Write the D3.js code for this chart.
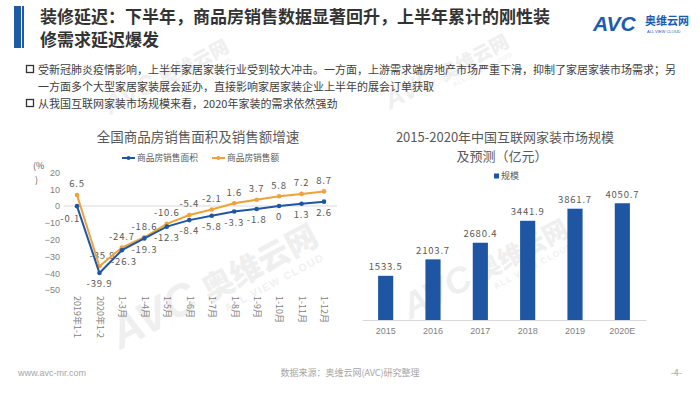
<!DOCTYPE html>
<html>
<head>
<meta charset="utf-8">
<script src="https://cdn.jsdelivr.net/npm/d3@7"></script>
<style>
body{margin:0;background:#fff;}
svg{display:block;font-family:"Noto Sans CJK SC","Noto Sans",sans-serif;}
</style>
</head>
<body>
<svg id="chart" width="700" height="394"></svg>
<script>
// 左图：全国商品房销售面积及销售额增速
var months = ["2019年1-12月","2020年1-2月","1-3月","1-4月","1-5月","1-6月","1-7月","1-8月","1-9月","1-10月","1-11月","1-12月"];
var areaGrowth = [-0.1,-39.9,-26.3,-19.3,-12.3,-8.4,-5.8,-3.3,-1.8,0,1.3,2.6];
var salesGrowth = [6.5,-35.9,-24.7,-18.6,-10.6,-5.4,-2.1,1.6,3.7,5.8,7.2,8.7];
var growthTicks = [20,10,0,-10,-20,-30,-40,-50];
// 右图：互联网家装市场规模（亿元）
var years = ["2015","2016","2017","2018","2019","2020E"];
var marketSize = [1533.5,2103.7,2680.4,3441.9,3861.7,4050.7];

var blue = "#1f56a3";
var orange = "#f0a23a";
var grey = "#595959";
var cjk = "'Noto Sans CJK SC', sans-serif";

var svg = d3.select("#chart");

// watermarks
function watermark(x,y,s){
	var g = svg.append("g").attr("transform","translate("+x+","+y+") rotate(-28) scale("+s+")")
		.attr("fill","#000").attr("opacity",0.06);
	g.append("text").attr("x",0).attr("y",0).attr("font-size","60px").attr("font-weight","900")
		.attr("font-style","italic").attr("font-family","Liberation Sans, sans-serif").text("AVC");
	g.append("text").attr("x",135).attr("y",0).attr("font-size","42px").attr("font-weight","900").text("奥维云网");
	g.append("text").attr("x",150).attr("y",22).attr("font-size","14px").attr("font-weight","700")
		.attr("letter-spacing","2px").attr("font-family","Liberation Sans, sans-serif").text("ALL VIEW CLOUD");
}
watermark(120,350,0.75);
watermark(410,320,0.6);
watermark(110,115,0.45);
watermark(390,110,0.45);

// header
svg.append("rect").attr("x",14).attr("y",6).attr("width",7).attr("height",42).attr("fill","#1d5ba6");
svg.append("rect").attr("x",22).attr("y",6).attr("width",2).attr("height",42).attr("fill","#1d5ba6");
svg.append("text").attr("x",40).attr("y",23).attr("font-size","17px").attr("font-weight","700").attr("fill","#333")
	.text("装修延迟：下半年，商品房销售数据显著回升，上半年累计的刚性装");
svg.append("text").attr("x",40).attr("y",46).attr("font-size","17px").attr("font-weight","700").attr("fill","#333")
	.text("修需求延迟爆发");

// logo
svg.append("text").attr("x",593).attr("y",31).attr("font-size","21px").attr("font-weight","900").attr("font-style","italic")
	.attr("font-family","Liberation Sans, sans-serif").attr("fill","#1b5cb0").text("AVC");
svg.append("text").attr("x",645).attr("y",25).attr("font-size","11px").attr("font-weight","700").attr("fill","#1b5cb0").text("奥维云网");
svg.append("text").attr("x",647).attr("y",33).attr("font-size","4px").attr("font-family","Liberation Sans, sans-serif")
	.attr("fill","#1b5cb0").text("ALL VIEW CLOUD");

// bullets
var bullets = [
	{x:38,y:70,box:true,t:"受新冠肺炎疫情影响，上半年家居家装行业受到较大冲击。一方面，上游需求端房地产市场严重下滑，抑制了家居家装市场需求；另"},
	{x:38,y:87,box:false,t:"一方面多个大型家居家装展会延办，直接影响家居家装企业上半年的展会订单获取"},
	{x:38,y:104,box:true,t:"从我国互联网家装市场规模来看，2020年家装的需求依然强劲"}
];
bullets.forEach(function(b){
	if(b.box){
		svg.append("rect").attr("x",26.5).attr("y",b.y-4.5).attr("width",7).attr("height",7)
			.attr("fill","none").attr("stroke","#333").attr("stroke-width",1.3);
	}
	svg.append("text").attr("x",b.x).attr("y",b.y).attr("dy","0.35em").attr("font-size","11px")
		.attr("fill","#404040").text(b.t);
});

// ---------- left line chart ----------
var x = d3.scalePoint().domain(months).range([77,324]);
var y = d3.scaleLinear().domain([-50,20]).range([290,172.4]);

svg.append("text").attr("x",198).attr("y",137).attr("dy","0.35em").attr("text-anchor","middle")
	.attr("font-size","13.5px").attr("fill",grey).text("全国商品房销售面积及销售额增速");

var legend = [{name:"商品房销售面积",c:blue,x:122},{name:"商品房销售额",c:orange,x:212}];
legend.forEach(function(l){
	svg.append("line").attr("x1",l.x).attr("x2",l.x+13).attr("y1",158).attr("y2",158).attr("stroke",l.c).attr("stroke-width",2);
	svg.append("circle").attr("cx",l.x+6.5).attr("cy",158).attr("r",2).attr("fill",l.c);
	svg.append("text").attr("x",l.x+15).attr("y",158).attr("dy","0.35em").attr("font-size","8.7px").attr("fill",grey).text(l.name);
});

svg.append("text").attr("x",33).attr("y",166).attr("dy","0.35em").attr("font-size","9px").attr("fill",grey).text("(%");
svg.append("text").attr("x",35).attr("y",180).attr("dy","0.35em").attr("font-size","9px").attr("fill",grey).text(")");

var yAxis = svg.append("g").attr("transform","translate(60,0)")
	.call(d3.axisLeft(y).tickValues(growthTicks).tickSize(0).tickPadding(0));
yAxis.select(".domain").remove();
yAxis.selectAll("text").attr("font-size","9px").attr("fill","#7f7f7f").attr("font-family","Liberation Sans, sans-serif");

svg.append("line").attr("x1",64).attr("x2",337).attr("y1",y(0)).attr("y2",y(0)).attr("stroke","#d9d9d9").attr("stroke-width",1);

// month labels run vertically and are cut off at the bottom of the chart box
svg.append("clipPath").attr("id","xclip").append("rect").attr("x",0).attr("y",-20).attr("width",350).attr("height",62);
var xAxis = svg.append("g").attr("transform","translate(0,296)").attr("clip-path","url(#xclip)")
	.call(d3.axisBottom(x).tickSize(0).tickPadding(0));
xAxis.select(".domain").remove();
xAxis.selectAll("text").attr("font-size","9px").attr("fill","#7f7f7f").attr("font-family",cjk)
	.attr("text-anchor","start").attr("dy","0.35em").attr("transform","rotate(90)").attr("y",0).attr("x",0);

function labelFmt(v){ return v === 0 ? "0" : String(v); }

// data labels (drawn under the lines)
svg.selectAll(".lblS").data(salesGrowth).enter().append("text")
	.attr("x",function(d,i){ return x(months[i]) + (i==1 ? 3 : 0); })
	.attr("y",function(d){ return y(d) - 11; })
	.attr("dy","0.35em").attr("text-anchor","middle").attr("font-size","9.5px").attr("letter-spacing","0.8px")
	.attr("fill",grey).text(labelFmt);
svg.selectAll(".lblA").data(areaGrowth).enter().append("text")
	.attr("x",function(d,i){ return i==0 ? x(months[i]) + 3 : x(months[i]) + (i==2 ? 2 : 0); })
	.attr("y",function(d,i){ return i==0 ? y(d) + 13 : y(d) + 11; })
	.attr("dy","0.35em").attr("text-anchor",function(d,i){ return i==0 ? "end" : "middle"; })
	.attr("font-size","9.5px").attr("letter-spacing","0.8px")
	.attr("fill",grey).text(labelFmt);

var line = d3.line().x(function(d,i){ return x(months[i]); }).y(function(d){ return y(d); });
[[salesGrowth,orange],[areaGrowth,blue]].forEach(function(s){
	svg.append("path").datum(s[0]).attr("d",line).attr("fill","none").attr("stroke",s[1]).attr("stroke-width",2);
	svg.selectAll(null).data(s[0]).enter().append("circle")
		.attr("cx",function(d,i){ return x(months[i]); }).attr("cy",function(d){ return y(d); })
		.attr("r",2.3).attr("fill",s[1]);
});

// ---------- right bar chart ----------
var xb = d3.scaleBand().domain(years).range([362,646]).paddingInner(0.68).paddingOuter(0.34);
var yb = d3.scaleLinear().domain([0,4500]).range([320,190.3]);

svg.append("text").attr("x",505).attr("y",137).attr("dy","0.35em").attr("text-anchor","middle")
	.attr("font-size","13px").attr("font-family",cjk).attr("fill",grey).text("2015-2020年中国互联网家装市场规模");
svg.append("text").attr("x",502).attr("y",156).attr("dy","0.35em").attr("text-anchor","middle")
	.attr("font-size","13px").attr("font-family",cjk).attr("fill",grey).text("及预测（亿元）");

svg.append("rect").attr("x",494).attr("y",173.5).attr("width",5).attr("height",5).attr("fill",blue);
svg.append("text").attr("x",501).attr("y",176).attr("dy","0.35em").attr("font-size","9px").attr("fill",grey).text("规模");

svg.selectAll(".bar").data(marketSize).enter().append("rect")
	.attr("x",function(d,i){ return xb(years[i]); })
	.attr("width",xb.bandwidth())
	.attr("y",function(d){ return yb(d); })
	.attr("height",function(d){ return yb(0) - yb(d); })
	.attr("fill",blue);

svg.selectAll(".barLbl").data(marketSize).enter().append("text")
	.attr("x",function(d,i){ return xb(years[i]) + xb.bandwidth()/2; })
	.attr("y",function(d){ return yb(d) - 9; })
	.attr("dy","0.35em").attr("text-anchor","middle").attr("font-size","9.5px").attr("letter-spacing","0.8px")
	.attr("fill",grey).text(function(d){ return d.toFixed(1); });

var xbAxis = svg.append("g").attr("transform","translate(0,320)").call(d3.axisBottom(xb).tickSize(0).tickPadding(8));
xbAxis.select(".domain").attr("stroke","#d9d9d9");
xbAxis.selectAll("text").attr("font-size","9px").attr("fill","#7f7f7f").attr("font-family","Liberation Sans, sans-serif");

// footer
svg.append("text").attr("x",18).attr("y",376).attr("font-size","9px").attr("fill","#a6a6a6")
	.attr("font-family","Liberation Sans, sans-serif").text("www.avc-mr.com");
svg.append("text").attr("x",350).attr("y",376).attr("text-anchor","middle").attr("font-size","9px").attr("fill","#a6a6a6")
	.text("数据来源：奥维云网(AVC)研究整理");
svg.append("text").attr("x",682).attr("y",376).attr("text-anchor","end").attr("font-size","9px").attr("fill","#a6a6a6")
	.text("-4-");
</script>
</body>
</html>
